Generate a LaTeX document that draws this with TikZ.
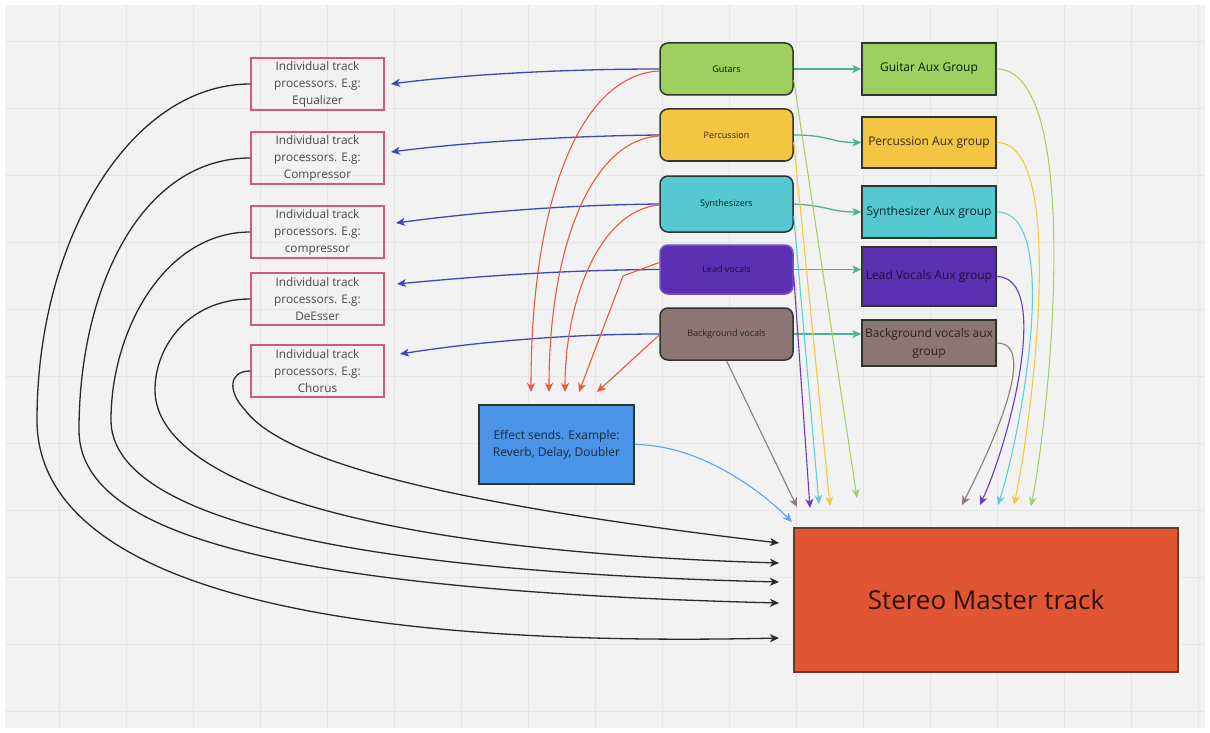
\documentclass[tikz,border=0pt]{standalone}
\usepackage{fontspec}
\setmainfont{Open Sans}
\usetikzlibrary{arrows.meta}
\definecolor{bgc}{HTML}{F2F2F2}
\definecolor{gridc}{HTML}{E6E6E6}
\definecolor{pinkc}{HTML}{D2587E}
\definecolor{proctext}{HTML}{474747}
\definecolor{bordc}{HTML}{2E3630}
\definecolor{gutc}{HTML}{9CCF5E}
\definecolor{percc}{HTML}{F4C542}
\definecolor{sync}{HTML}{55C8D2}
\definecolor{leadc}{HTML}{5A30B0}
\definecolor{leadb}{HTML}{7650C8}
\definecolor{bgvc}{HTML}{8D7575}
\definecolor{effc}{HTML}{4A93E6}
\definecolor{masc}{HTML}{E05533}
\definecolor{masb}{HTML}{6A3A2A}
\definecolor{bluea}{HTML}{4046B8}
\definecolor{reda}{HTML}{E85A3C}
\definecolor{teala}{HTML}{4AB096}
\definecolor{gline}{HTML}{A6D06C}
\definecolor{yline}{HTML}{F5C842}
\definecolor{cline}{HTML}{5CCFD8}
\definecolor{pline}{HTML}{6A3AC0}
\definecolor{bline}{HTML}{8F7A7A}
\definecolor{eline}{HTML}{5AA5EA}
\definecolor{blk}{HTML}{2A2A2A}
\begin{document}
\begin{tikzpicture}[x=1pt,y=-1pt,
  proc/.style={draw=pinkc, line width=1.5pt, minimum width=133pt, minimum height=52pt, align=center, text=proctext, font=\fontsize{11.8}{17}\selectfont, inner sep=0pt},
  track/.style={draw=bordc, line width=1.5pt, rounded corners=8pt, minimum width=133pt, minimum height=52pt, font=\fontsize{9}{11}\selectfont, inner sep=0pt},
  aux/.style={draw=bordc, line width=1.5pt, minimum width=134pt, minimum height=52pt, align=center, font=\fontsize{12}{17}\selectfont, inner sep=0pt},
  conn/.style={line width=1.3pt, -{Stealth[length=9pt,width=8pt,inset=2.5pt]}},
  thin/.style={line width=1.1pt, -{Stealth[length=9pt,width=8pt,inset=2.5pt]}}
]
\useasboundingbox (0,0) rectangle (1210,733);
\fill[white] (0,0) rectangle (1210,733);
\fill[bgc] (5,5) rectangle (1205,728);
\foreach \gx in {59,126,...,1205} \draw[gridc, line width=0.8pt] (\gx,5) -- (\gx,728);
\foreach \gy in {41,108,...,728} \draw[gridc, line width=0.8pt] (5,\gy) -- (1205,\gy);

% processor boxes
\node[proc] (p1) at (317.5,84) {Individual track\\processors. E.g:\\Equalizer};
\node[proc] (p2) at (317.5,158) {Individual track\\processors. E.g:\\Compressor};
\node[proc] (p3) at (317.5,232) {Individual track\\processors. E.g:\\compressor};
\node[proc] (p4) at (317.5,299) {Individual track\\processors. E.g:\\DeEsser};
\node[proc] (p5) at (317.5,371) {Individual track\\processors. E.g:\\Chorus};

% tracks
\node[track, fill=gutc, text=black!75!green!40!black] (gut) at (726.5,69) {Gutars};
\node[track, fill=percc, text=black!70!brown] (perc) at (726.5,135) {Percussion};
\node[track, fill=sync, minimum height=56pt, text=black!70!teal] (syn) at (726.5,204) {Synthesizers};
\node[track, fill=leadc, draw=leadb, minimum height=49pt, text=black!70!leadc] (lead) at (726.5,269.5) {Lead vocals};
\node[track, fill=bgvc, text=black!70!bgvc] (bgv) at (726.5,334) {Background vocals};

% aux groups
\node[aux, fill=gutc, text=black!70!green!40!black] (gaux) at (929,69) {Guitar Aux Group};
\node[aux, fill=percc, minimum height=51pt, text=black!70!brown] (paux) at (929,142.5) {Percussion Aux group};
\node[aux, fill=sync, text=black!70!teal] (saux) at (929,212) {Synthesizer Aux group};
\node[aux, fill=leadc, minimum height=59pt, text=black!65!leadc] (laux) at (929,276.5) {Lead Vocals Aux group};
\node[aux, fill=bgvc, minimum height=46pt, text=black!70!bgvc, font=\fontsize{12}{18}\selectfont] (baux) at (929,343) {Background vocals aux\\group};

% effect and master
\node[draw=bordc, line width=1.5pt, fill=effc, minimum width=155pt, minimum height=79pt, align=center, text=black!70!effc, font=\fontsize{12}{17}\selectfont, inner sep=0pt] (eff) at (556.5,444.5) {Effect sends. Example:\\Reverb, Delay, Doubler};
\node[draw=masb, line width=1.5pt, fill=masc, minimum width=384pt, minimum height=144pt, text=black!80!masc, font=\fontsize{26}{30}\selectfont, inner sep=0pt] (master) at (986,600) {Stereo Master track};

% free ends
\coordinate (b1) at (391,84);
\coordinate (b2) at (391,152);
\coordinate (b3) at (396,223);
\coordinate (b4) at (397,284);
\coordinate (b5) at (400,354);
\coordinate (r1) at (531,392);
\coordinate (r2) at (549,392);
\coordinate (r3) at (565,392);
\coordinate (r4) at (579,392);
\coordinate (r5) at (597,392);
\coordinate (m1) at (857,498);
\coordinate (m2) at (830,506);
\coordinate (m3) at (819,504);
\coordinate (m4) at (810,508);
\coordinate (m5) at (797,507);
\coordinate (me) at (792,522);
\coordinate (a1) at (1031,506);
\coordinate (a2) at (1014,505);
\coordinate (a3) at (998,505);
\coordinate (a4) at (980,505);
\coordinate (a5) at (962,505);
\coordinate (k1) at (779,638);
\coordinate (k2) at (779,603);
\coordinate (k3) at (779,582);
\coordinate (k4) at (779,563);
\coordinate (k5) at (779,543);

% blue arrows to processors
\draw[conn, bluea] (gut.west) .. controls (560,69) and (460,75) .. (b1);
\draw[conn, bluea] (perc.west) .. controls (560,136) and (460,143) .. (b2);
\draw[conn, bluea] (syn.west) .. controls (560,205) and (470,213) .. (b3);
\draw[conn, bluea] (lead.west) .. controls (560,270) and (470,277) .. (b4);
\draw[conn, bluea] (bgv.west) .. controls (560,334) and (470,343) .. (b5);

% red arrows to effect sends
\draw[thin, reda] ([yshift=-2pt]gut.west) .. controls (580,75) and (531,200) .. (r1);
\draw[thin, reda] ([yshift=-1pt]perc.west) .. controls (590,140) and (549,250) .. (r2);
\draw[thin, reda] ([yshift=-1pt]syn.west) .. controls (600,210) and (565,300) .. (r3);
\draw[thin, reda] ([yshift=7pt]lead.west) -- (623,276) -- (r4);
\draw[thin, reda] ([yshift=-1pt]bgv.west) -- (r5);

% teal arrows to aux groups
\draw[conn, teala] (gut.east) -- (gaux.west);
\draw[conn, teala] (perc.east) .. controls (830,135) and (830,142.5) .. (paux.west);
\draw[conn, teala] (syn.east) .. controls (830,206) and (830,212) .. (saux.west);
\draw[conn, teala] (lead.east) -- ([yshift=7pt]laux.west);
\draw[conn, teala] (bgv.east) -- ([yshift=9pt]baux.west);

% tracks to master
\draw[thin, gline] ([yshift=-11pt]gut.east) -- (m1);
\draw[thin, yline] ([yshift=-7pt]perc.east) -- (m2);
\draw[thin, cline] ([yshift=-12pt]syn.east) -- (m3);
\draw[thin, pline] ([yshift=-6pt]lead.east) -- (m4);
\draw[thin, bline] (bgv.south) -- (m5);
\draw[thin, eline] (eff.east) .. controls (700,445) and (760,490) .. (me);

% aux to master
\draw[thin, gline] (gaux.east) .. controls (1082,70) and (1052,400) .. (a1);
\draw[thin, yline] (paux.east) .. controls (1068,142) and (1032,420) .. (a2);
\draw[thin, cline] (saux.east) .. controls (1062,211) and (1022,430) .. (a3);
\draw[thin, pline] (laux.east) .. controls (1052,277) and (1010,440) .. (a4);
\draw[thin, bline] (baux.east) .. controls (1038,343) and (995,440) .. (a5);

% processors to master
\draw[conn, blk] (p1.west) .. controls (130,84) and (37,240) .. (37,420) .. controls (37,560) and (250,650) .. (k1);
\draw[conn, blk] (p2.west) .. controls (140,158) and (79,290) .. (79,430) .. controls (79,530) and (260,590) .. (k2);
\draw[conn, blk] (p3.west) .. controls (165,232) and (111,330) .. (111,420) .. controls (111,505) and (290,570) .. (k3);
\draw[conn, blk] (p4.west) .. controls (190,299) and (155,345) .. (155,390) .. controls (155,475) and (340,550) .. (k4);
\draw[conn, blk] (p5.west) .. controls (228,371) and (228,392) .. (245,410) .. controls (290,470) and (500,510) .. (k5);
\end{tikzpicture}
\end{document}
